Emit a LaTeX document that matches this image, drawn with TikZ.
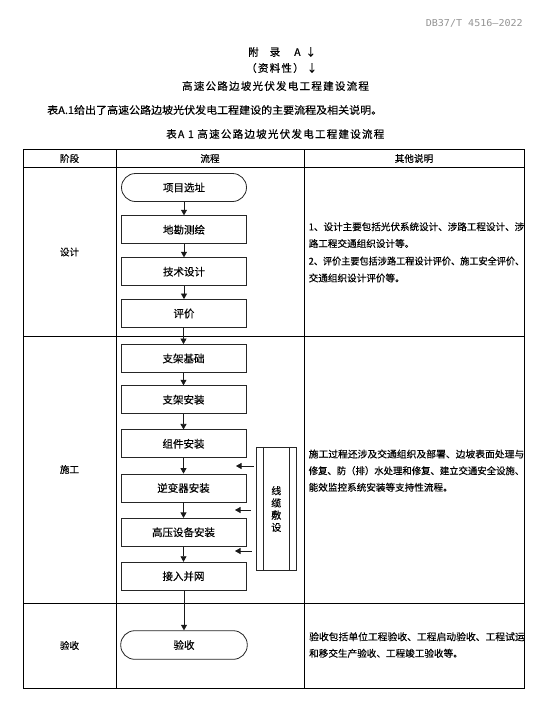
\documentclass[tikz,border=0pt]{standalone}
\usepackage{fontspec}
\usepackage{graphicx}
\setmainfont[FakeBold=0.25]{Noto Sans CJK SC}
\newfontfamily\cjkls[LetterSpace=12,FakeBold=0.45]{Noto Sans CJK SC}
\newfontfamily\monof{DejaVu Sans Mono}
\usetikzlibrary{arrows.meta}
\newcommand\fitln[1]{\resizebox{215.5pt}{\height}{#1}}
\begin{document}
\begin{tikzpicture}[x=1pt,y=-1pt,
  tline/.style={line width=0.8pt, black},
  pbox/.style={draw=black!85, line width=0.8pt, minimum width=125pt, minimum height=28pt, inner sep=0pt, font=\fontsize{10.5pt}{12pt}\selectfont},
  term/.style={pbox, rounded corners=14pt},
  flow/.style={-{Triangle[length=5.5pt,width=6pt]}, line width=0.7pt, black!90},
  hdr/.style={inner sep=0pt, font=\fontsize{9.6pt}{11pt}\selectfont},
  note/.style={anchor=west, inner sep=0pt, font=\fontsize{9.6pt}{11pt}\selectfont},
  head/.style={inner sep=0pt, font=\fontsize{10.5pt}{12pt}\selectfont}
]
\useasboundingbox (0,0) rectangle (541,702);
\fill[white] (0,0) rectangle (541,702);

% page header
\node[anchor=east, inner sep=0pt, text=black!42] (dbno) at (523,23) {\resizebox{97pt}{\height}{\monof\fontsize{9.5pt}{11pt}\selectfont DB37/T 4516—2022}};
\node[head, anchor=west] (appx) at (248,52) {{\cjkls 附}\hspace{11pt}{\cjkls 录}\hspace{14pt}{\cjkls A}\hspace{5pt}↓};
\node[head, anchor=west] (info) at (246,68) {{\cjkls （资料性）}\hspace{3pt}↓};
\node[head] (title) at (275.5,86) {\cjkls 高速公路边坡光伏发电工程建设流程};
\node[head, anchor=west] (intro) at (47,110) {\resizebox{335pt}{\height}{表A.1给出了高速公路边坡光伏发电工程建设的主要流程及相关说明。}};
\node[head, anchor=west] (ttitle) at (166,134) {\cjkls 表A 1 高速公路边坡光伏发电工程建设流程};

% table grid
\draw[tline] (23,149) rectangle (524,688);
\draw[tline] (116,149) -- (116,688);
\draw[tline] (304,149) -- (304,688);
\draw[tline] (23,167.5) -- (524,167.5);
\draw[tline] (23,336) -- (524,336);
\draw[tline] (23,603) -- (524,603);

% header row
\node[hdr] (h1) at (69.5,158.5) {阶段};
\node[hdr] (h2) at (210,158.5) {流程};
\node[hdr] (h3) at (414,158.5) {其他说明};

% stage labels
\node[hdr] (st1) at (69.5,252) {设计};
\node[hdr] (st2) at (69.5,469.5) {施工};
\node[hdr] (st3) at (69.5,645.5) {验收};

% flow boxes
\node[term] (s1) at (184,187.5) {项目选址};
\node[pbox] (s2) at (184,229.7) {地勘测绘};
\node[pbox] (s3) at (184,271.7) {技术设计};
\node[pbox] (s4) at (184,313.5) {评价};
\node[pbox] (c1) at (183.5,358.5) {支架基础};
\node[pbox] (c2) at (183.5,399.7) {支架安装};
\node[pbox] (c3) at (183.5,443.8) {组件安装};
\node[pbox] (c4) at (183.5,488) {逆变器安装};
\node[pbox] (c5) at (183.5,532.3) {高压设备安装};
\node[pbox] (c6) at (183.5,576.2) {接入并网};
\node[term, minimum width=126.5pt, minimum height=28.6pt] (a1) at (184,645) {验收};

% cable laying box
\node[draw=black!85, line width=0.8pt, minimum width=40.7pt, minimum height=123.4pt, inner sep=0pt, align=center, font=\fontsize{10pt}{12.2pt}\selectfont] (cable) at (276.3,509) {线\\缆\\敷\\设};
\draw[draw=black!85, line width=0.8pt] ([xshift=8pt]cable.north west) -- ([xshift=8pt]cable.south west);
\draw[draw=black!85, line width=0.8pt] ([xshift=-8pt]cable.north east) -- ([xshift=-8pt]cable.south east);

% flow connectors
\draw[flow] (s1) -- (s2);
\draw[flow] (s2) -- (s3);
\draw[flow] (s3) -- (s4);
\draw[flow] (s4.south -| c1.north) -- (c1);
\draw[flow] (c1) -- (c2);
\draw[flow] (c2) -- (c3);
\draw[flow] (c3) -- (c4);
\draw[flow] (c4) -- (c5);
\draw[flow] (c5) -- (c6);
\draw[flow] (c6.south -| a1.north) -- (a1);

% cable arrows
\coordinate (k1) at (236,466);
\coordinate (k2) at (235,510);
\coordinate (k3) at (235,551);
\draw[flow, shorten <=2pt] (cable.west |- k1) -- (k1);
\draw[flow, shorten <=5pt] (cable.west |- k2) -- (k2);
\draw[flow, shorten <=4pt] (cable.west |- k3) -- (k3);

% notes
\node[note] (n11) at (308.5,226.7) {\fitln{1、设计主要包括光伏系统设计、涉路工程设计、涉}};
\node[note] (n12) at (308.5,243.5) {路工程交通组织设计等。};
\node[note] (n13) at (308.5,261) {\fitln{2、评价主要包括涉路工程设计评价、施工安全评价、}};
\node[note] (n14) at (308.5,278) {交通组织设计评价等。};

\node[note] (n21) at (308.5,454) {\fitln{施工过程还涉及交通组织及部署、边坡表面处理与}};
\node[note] (n22) at (308.5,470.7) {\fitln{修复、防（排）水处理和修复、建立交通安全设施、}};
\node[note] (n23) at (308.5,487.3) {能效监控系统安装等支持性流程。};

\node[note] (n31) at (309,636.7) {\fitln{验收包括单位工程验收、工程启动验收、工程试运}};
\node[note] (n32) at (309,653.3) {和移交生产验收、工程竣工验收等。};
\end{tikzpicture}
\end{document}
